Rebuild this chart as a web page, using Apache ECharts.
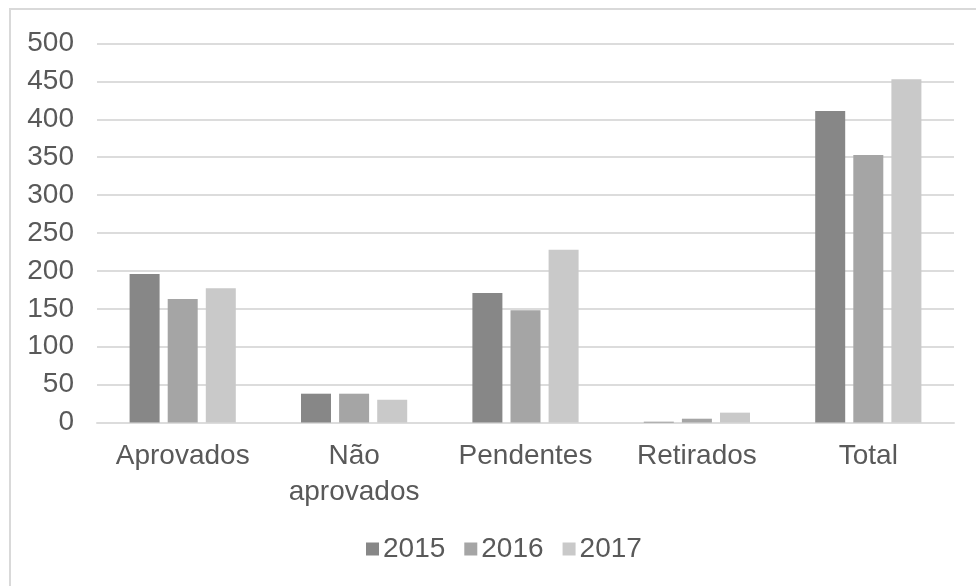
<!DOCTYPE html>
<html>
<head>
<meta charset="utf-8">
<script src="https://cdn.jsdelivr.net/npm/echarts@6/dist/echarts.min.js"></script>
<style>
html,body{margin:0;padding:0;background:#fff;}
#c{width:976px;height:586px;}
</style>
</head>
<body>
<div id="c"></div>
<script>
const categories = ['Aprovados', 'Não\naprovados', 'Pendentes', 'Retirados', 'Total'];
const seriesNames = ['2015', '2016', '2017'];
const values2015 = [196, 38, 171, 1, 411];
const values2016 = [163, 38, 148, 5, 353];
const values2017 = [177, 30, 228, 13, 453];
const yTicks = [0, 50, 100, 150, 200, 250, 300, 350, 400, 450, 500];
const colors = ['#878787', '#a5a5a5', '#c9c9c9'];

const font = '"Liberation Sans", Arial, Helvetica, sans-serif';
const textColor = '#595959';
const gridColor = '#dcdcdc';

const chart = echarts.init(document.getElementById('c'), null, {renderer: 'canvas'});
const allValues = [values2015, values2016, values2017];
chart.setOption({
  animation: false,
  backgroundColor: '#fff',
  graphic: [{
    type: 'rect',
    shape: {x: 10, y: 9, width: 1200, height: 1200},
    style: {fill: 'none', stroke: '#d9d9d9', lineWidth: 2},
    silent: true
  }],
  grid: {left: 97, right: 22, top: 43.5, bottom: 163.5, containLabel: false},
  legend: {
    data: seriesNames,
    top: 530,
    left: 361,
    icon: 'rect',
    itemWidth: 13,
    itemHeight: 13,
    itemGap: 19,
    textStyle: {fontSize: 28, color: textColor, fontFamily: font, padding: [0, 0, 0, -1]}
  },
  xAxis: {
    type: 'category',
    data: categories,
    axisLine: {show: true, lineStyle: {color: gridColor, width: 2}},
    axisTick: {show: false},
    axisLabel: {fontSize: 28, color: textColor, fontFamily: font, margin: 16, lineHeight: 36, interval: 0}
  },
  yAxis: {
    type: 'value',
    min: yTicks[0],
    max: yTicks[yTicks.length - 1],
    interval: 50,
    axisLine: {show: false},
    axisTick: {show: false},
    splitLine: {lineStyle: {color: gridColor, width: 2}},
    axisLabel: {fontSize: 28, color: textColor, fontFamily: font, margin: 23}
  },
  series: seriesNames.map((name, i) => ({
    name: name,
    type: 'bar',
    data: allValues[i],
    barWidth: 30,
    barGap: '27%',
    itemStyle: {color: colors[i]}
  }))
});
</script>
</body>
</html>
